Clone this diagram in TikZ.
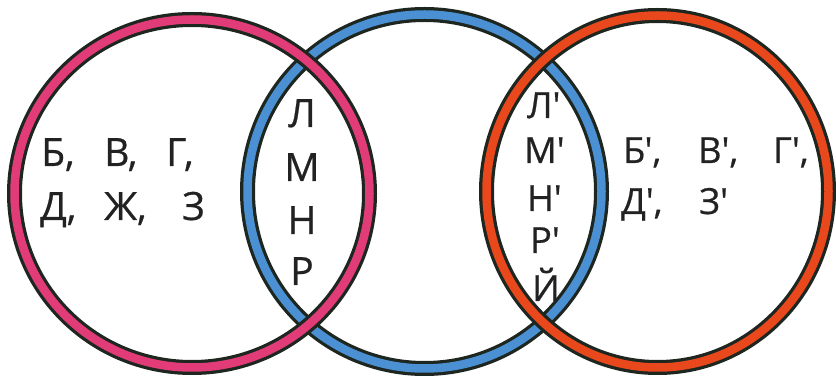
\documentclass[tikz,border=0pt]{standalone}
\usepackage{fontspec}
\newfontfamily\lab{Open Sans}[FakeBold=0.6]
\definecolor{ringpink}{HTML}{E23C78}
\definecolor{ringblue}{HTML}{4A90D2}
\definecolor{ringorange}{HTML}{E8481C}
\definecolor{ringedge}{HTML}{1E2620}
\definecolor{txt}{HTML}{222222}
\tikzset{
  ringout/.style={draw=ringedge, line width=15pt},
  ringin/.style={line width=8.5pt},
  bigl/.style={font=\lab\fontsize{39}{39}\selectfont, text=txt, inner sep=0pt, anchor=base west},
  smalll/.style={font=\lab\fontsize{36}{36}\selectfont, text=txt, inner sep=0pt, anchor=base west},
  colbig/.style={font=\lab\fontsize{39}{39}\selectfont, text=txt, inner sep=0pt, anchor=base},
  colsmall/.style={font=\lab\fontsize{36}{36}\selectfont, text=txt, inner sep=0pt, anchor=base west}
}
\begin{document}
\begin{tikzpicture}[x=1pt,y=-1pt]
\useasboundingbox (0,0) rectangle (836,379);
\coordinate (cb) at (424.5,191.5);
\coordinate (cp) at (192,193.5);
\coordinate (co) at (657.5,191.5);
% blue (middle)
\draw[ringout] (cb) ellipse[x radius=177, y radius=177];
\draw[ringin, draw=ringblue] (cb) ellipse[x radius=177, y radius=177];
% pink (left)
\draw[ringout] (cp) ellipse[x radius=177.5, y radius=174];
\draw[ringin, draw=ringpink] (cp) ellipse[x radius=177.5, y radius=174];
% orange (right)
\draw[ringout] (co) ellipse[x radius=171, y radius=176];
\draw[ringin, draw=ringorange] (co) ellipse[x radius=171, y radius=176];
% left labels
\node[bigl] (b)  at (41,166) {Б,};
\node[bigl] (v)  at (104,166) {В,};
\node[bigl] (g)  at (166,166) {Г,};
\node[bigl] (d)  at (40,220) {Д,};
\node[bigl] (zh) at (104,220) {Ж,};
\node[bigl] (z)  at (182,220) {З};
% middle-left column
\node[colbig] (l)  at (302,127) {Л};
\node[colbig] (m)  at (302,181) {М};
\node[colbig] (n)  at (302,234) {Н};
\node[colbig] (r)  at (302,285) {Р};
% middle-right column
\node[colsmall] (l2) at (527,118) {Л'};
\node[colsmall] (m2) at (524,163) {М'};
\node[colsmall] (n2) at (527,211) {Н'};
\node[colsmall] (r2) at (530,253) {Р'};
\node[colsmall] (j2) at (532,301) {Й};
% right labels
\node[smalll] (b2) at (623,163) {Б',};
\node[smalll] (v2) at (698,163) {В',};
\node[smalll] (g2) at (773,163) {Г',};
\node[smalll] (d2) at (621,214) {Д',};
\node[smalll] (z2) at (699,214) {З'};
\end{tikzpicture}
\end{document}
